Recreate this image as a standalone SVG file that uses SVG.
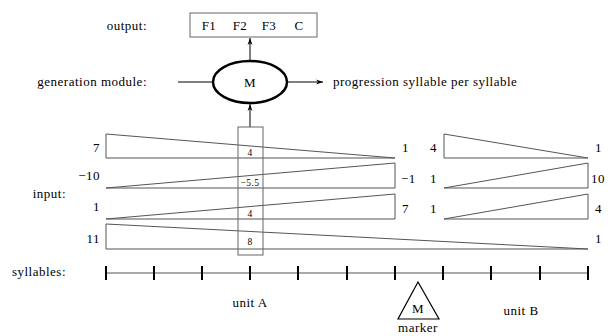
<svg xmlns="http://www.w3.org/2000/svg" width="612" height="336" viewBox="0 0 612 336" font-family="'Liberation Serif','DejaVu Serif',serif">
<style>
text{font-family:"Liberation Serif","DejaVu Serif",serif;font-size:13px;letter-spacing:0.5px;fill:#000}
.s{font-size:9.5px;letter-spacing:0.4px}
.w{fill:none;stroke:#555;stroke-width:1}
.b{fill:none;stroke:#666;stroke-width:1}
.ln{stroke:#000;stroke-width:1;fill:none}
.tk{stroke:#000;stroke-width:2}
</style>
<defs>
<marker id="ah" viewBox="0 0 10 10" refX="10" refY="5" markerWidth="9" markerHeight="7" orient="auto" markerUnits="userSpaceOnUse"><path d="M0,1.5 L10,5 L0,8.5 L3,5 Z" fill="#000"/></marker>
</defs>
<rect x="0" y="0" width="612" height="336" fill="#fff"/>
<text x="147" y="30" text-anchor="end">output:</text>
<text x="147" y="86" text-anchor="end">generation module:</text>
<text x="66" y="198" text-anchor="end">input:</text>
<text x="66" y="276" text-anchor="end">syllables:</text>
<g id="output">
<rect class="b" x="190" y="13" width="127" height="24"/>
<text x="209" y="30" text-anchor="middle">F1</text>
<text x="240" y="30" text-anchor="middle">F2</text>
<text x="269" y="30" text-anchor="middle">F3</text>
<text x="299" y="30" text-anchor="middle">C</text>
</g>
<g id="module">
<ellipse cx="250" cy="82" rx="37" ry="21" fill="none" stroke="#000" stroke-width="2.5"/>
<text x="250" y="87" text-anchor="middle">M</text>
</g>
<text x="333" y="86">progression syllable per syllable</text>
<g id="connectors">
<line class="ln" x1="250" y1="60" x2="250" y2="38" marker-end="url(#ah)"/>
<line class="ln" x1="250" y1="127" x2="250" y2="104" marker-end="url(#ah)"/>
<line class="ln" x1="178" y1="82" x2="213" y2="82"/>
<line class="ln" x1="288" y1="82" x2="323" y2="82" marker-end="url(#ah)"/>
</g>
<g id="wedges">
<polygon class="w" points="106,134 106,158 395,158"/>
<polygon class="w" points="106,188 395,163 395,188"/>
<polygon class="w" points="106,219 395,194 395,219"/>
<polygon class="w" points="106,224 106,249 588,249"/>
<polygon class="w" points="444,134 444,158 588,158"/>
<polygon class="w" points="444,188 588,163 588,188"/>
<polygon class="w" points="444,219 588,194 588,219"/>
</g>
<g id="labels">
<text x="100" y="152" text-anchor="end">7</text>
<text x="100" y="180" text-anchor="end">−10</text>
<text x="100" y="211" text-anchor="end">1</text>
<text x="100" y="243" text-anchor="end">11</text>
<text x="402" y="152">1</text>
<text x="401" y="183">−1</text>
<text x="437" y="152" text-anchor="end">4</text>
<text x="437" y="183" text-anchor="end">1</text>
<text x="437" y="213" text-anchor="end">1</text>
<text x="402" y="213">7</text>
<text x="595" y="152">1</text>
<text x="591" y="183">10</text>
<text x="595" y="213">4</text>
<text x="595" y="243">1</text>
</g>
<g id="column">
<rect class="b" x="238" y="127" width="25" height="128"/>
<text class="s" x="250" y="156" text-anchor="middle">4</text>
<text class="s" x="250" y="186" text-anchor="middle">−5.5</text>
<text class="s" x="250" y="217" text-anchor="middle">4</text>
<text class="s" x="250" y="245" text-anchor="middle">8</text>
</g>
<g id="axis">
<line x1="106" y1="273" x2="588" y2="273" stroke="#555" stroke-width="1"/>
<path class="tk" d="M106,266V280M154,266V280M202,266V280M250,266V280M298,266V280M347,266V280M395,266V280M443,266V280M491,266V280M540,266V280M588,266V280"/>
</g>
<text x="250" y="307" text-anchor="middle">unit A</text>
<text x="521" y="315" text-anchor="middle">unit B</text>
<g id="marker">
<polygon points="418,282 398,319 439,319" fill="none" stroke="#000" stroke-width="1.2"/>
<text x="418" y="313" text-anchor="middle">M</text>
<text x="418" y="332" text-anchor="middle">marker</text>
</g>
</svg>
